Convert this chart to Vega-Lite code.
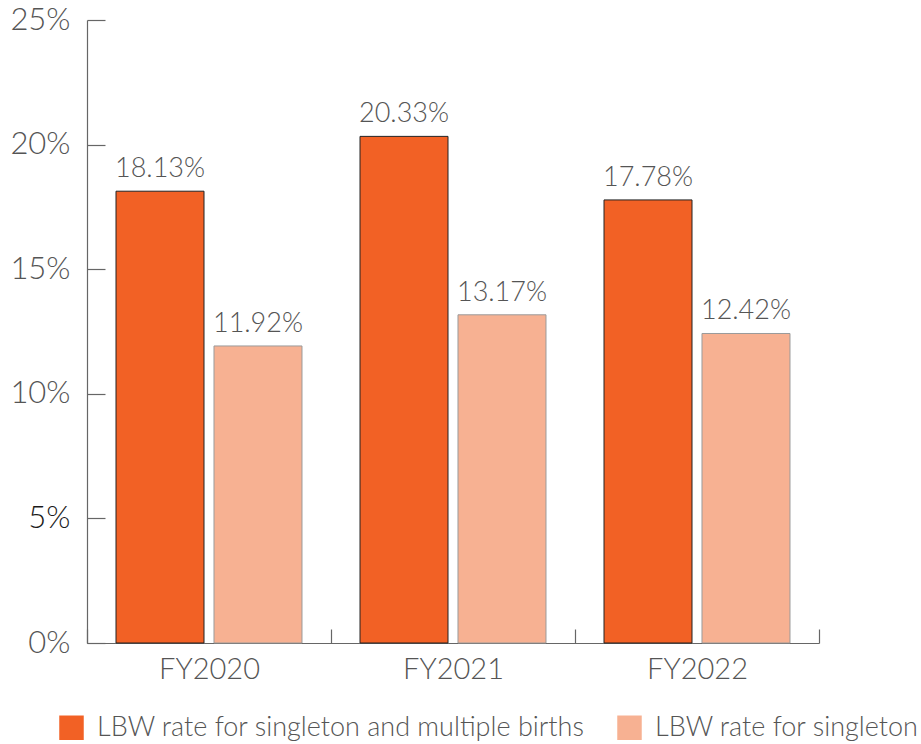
{
  "$schema": "https://vega.github.io/schema/vega-lite/v6.json",
  "autosize": {"type": "none"},
  "width": 732,
  "height": 623,
  "padding": {"left": 87, "top": 20, "right": 102, "bottom": 101},
  "background": "white",
  "data": {
    "values": [
      {"year": "FY2020", "series": "LBW rate for singleton and multiple births", "rate": 0.1813},
      {"year": "FY2020", "series": "LBW rate for singleton", "rate": 0.1192},
      {"year": "FY2021", "series": "LBW rate for singleton and multiple births", "rate": 0.2033},
      {"year": "FY2021", "series": "LBW rate for singleton", "rate": 0.1317},
      {"year": "FY2022", "series": "LBW rate for singleton and multiple births", "rate": 0.1778},
      {"year": "FY2022", "series": "LBW rate for singleton", "rate": 0.1242}
    ]
  },
  "config": {
    "view": {"stroke": null},
    "font": "Lato",
    "axis": {"grid": false, "domainColor": "#666", "tickColor": "#666", "labelColor": "#555", "labelFont": "Lato", "labelFontWeight": 300, "titleFont": "Lato"}
  },
  "encoding": {
    "x": {
      "field": "year", "type": "nominal", "title": null,
      "scale": {"paddingInner": 0, "paddingOuter": 0},
      "axis": {"labelAngle": 0, "labelFontSize": 29, "tickBand": "extent", "tickSize": -14, "labelPadding": 26, "domainWidth": 1.2, "tickWidth": 1.2}
    },
    "xOffset": {
      "field": "series", "type": "nominal",
      "sort": ["LBW rate for singleton and multiple births", "LBW rate for singleton"],
      "scale": {"paddingInner": 0.102, "paddingOuter": 0.296}
    },
    "y": {
      "field": "rate", "type": "quantitative", "title": null,
      "scale": {"domain": [0, 0.25]},
      "axis": {
        "values": [0, 0.05, 0.1, 0.15, 0.2, 0.25], "format": ".0%", "labelFontSize": 31, "tickSize": -18, "labelPadding": 35, "domainWidth": 1.2, "tickWidth": 1.2,
        "labelColor": {"condition": {"test": "datum.value == 0.05", "value": "#1a1a1a"}, "value": "#555"}
      }
    }
  },
  "layer": [
    {
      "mark": {"type": "bar", "strokeWidth": 1},
      "encoding": {
        "color": {
          "field": "series", "type": "nominal",
          "sort": ["LBW rate for singleton and multiple births", "LBW rate for singleton"],
          "scale": {"domain": ["LBW rate for singleton and multiple births", "LBW rate for singleton"], "range": ["#F26125", "#F7B192"]},
          "legend": {
            "title": null, "orient": "none", "legendX": -29, "legendY": 694, "direction": "horizontal",
            "symbolType": "square", "symbolSize": 600, "symbolStrokeWidth": 0, "labelFontSize": 27, "labelColor": "#555",
            "labelFont": "Lato", "labelFontWeight": 300, "labelOffset": 12, "columnPadding": 30, "labelLimit": 600
          }
        },
        "stroke": {
          "field": "series", "type": "nominal",
          "scale": {"domain": ["LBW rate for singleton and multiple births", "LBW rate for singleton"], "range": ["#222222", "#9a9a9a"]},
          "legend": null
        }
      }
    },
    {
      "mark": {"type": "text", "baseline": "bottom", "dy": -8, "fontSize": 27, "fontWeight": 300, "color": "#555"},
      "encoding": {
        "text": {"field": "rate", "type": "quantitative", "format": ".2%"}
      }
    }
  ]
}
